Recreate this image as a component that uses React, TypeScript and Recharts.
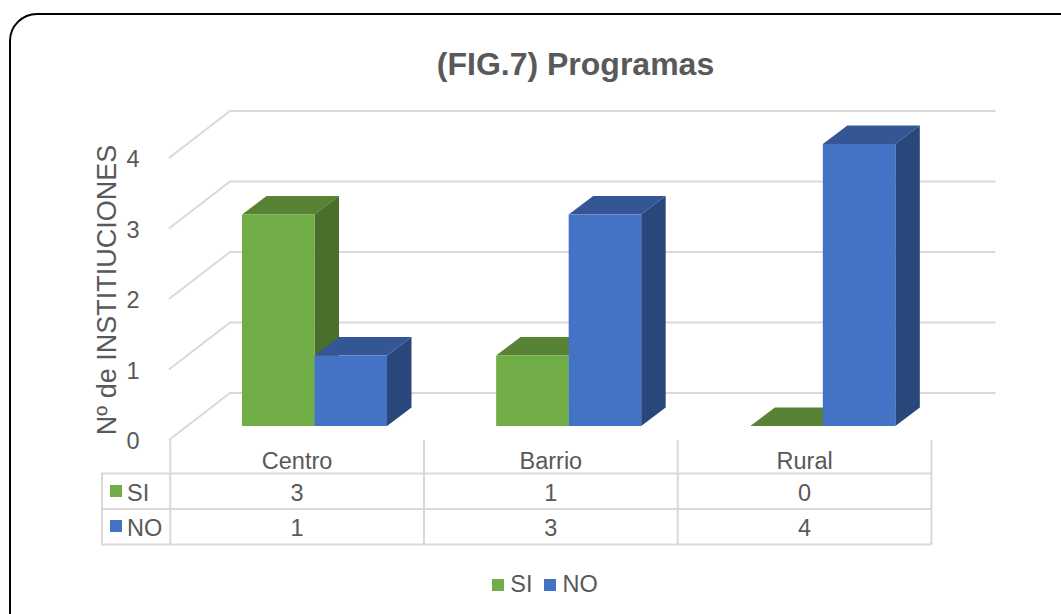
import React from "react";
import { BarChart, Bar, XAxis, YAxis, CartesianGrid, Legend } from "recharts";

const categories = ["Centro", "Barrio", "Rural"];
const siValues = [3, 1, 0];
const noValues = [1, 3, 4];
const yTicks = [0, 1, 2, 3, 4];

const data = categories.map((name, i) => ({ name, SI: siValues[i], NO: noValues[i] }));

const TEXT = "#595959";
const LINE = "#d9d9d9";
const FONT = "'Liberation Sans', Arial, sans-serif";
const LABEL_SIZE = 23.5;

const colors = {
  SI: { front: "#70ad47", top: "#588234", side: "#4a6e2b" },
  NO: { front: "#4472c4", top: "#345695", side: "#29477a" },
};

const DEPTH_X = 24.5;
const DEPTH_Y = 18.5;

// caja 3D: frente, techo y lateral a partir del rectangulo de la barra
const Box3D = ({ x, y, width, height, palette }: any) => {
  const r = x + width;
  const b = y + height;
  return (
    <g>
      <path
        d={`M${x},${y} L${x + DEPTH_X},${y - DEPTH_Y} L${r + DEPTH_X},${y - DEPTH_Y} L${r},${y} Z`}
        fill={palette.top}
      />
      <path
        d={`M${r},${y} L${r + DEPTH_X},${y - DEPTH_Y} L${r + DEPTH_X},${b - DEPTH_Y} L${r},${b} Z`}
        fill={palette.side}
      />
      <rect x={x} y={y} width={width} height={height} fill={palette.front} />
    </g>
  );
};

// rejilla en perspectiva: pared lateral + pared del fondo
const gridLine = ({ x1, x2, y1, key }: any) => (
  <path
    key={key}
    d={`M${x1 - 18},${y1 + 14} L${x1 + 43},${y1 - 33} L${x2 + 46},${y1 - 33}`}
    fill="none"
    stroke={LINE}
    strokeWidth={2}
  />
);

const YTick = ({ x, y, payload }: any) => (
  <text x={x - 46} y={y + 23} textAnchor="middle" fontSize={LABEL_SIZE} fill={TEXT} fontFamily={FONT}>
    {payload.value}
  </text>
);

const BAND = 253.7;
const TABLE_TOP = 473.5;
const ROW1 = 509;
const ROW2 = 544.5;

// cada tick dibuja su columna de la tabla de datos
const TableTick = ({ x, index, payload }: any) => {
  const cx = x - 17 - index * 0.4;
  const left = cx - BAND / 2;
  const right = cx + BAND / 2;
  const common = { textAnchor: "middle" as const, fontSize: LABEL_SIZE, fill: TEXT, fontFamily: FONT };
  return (
    <g>
      <line x1={left} x2={left} y1={440} y2={ROW2} stroke={LINE} strokeWidth={2} />
      {index === categories.length - 1 && (
        <line x1={right} x2={right} y1={440} y2={ROW2} stroke={LINE} strokeWidth={2} />
      )}
      {[TABLE_TOP, ROW1, ROW2].map((ly) => (
        <line key={ly} x1={left} x2={right} y1={ly} y2={ly} stroke={LINE} strokeWidth={2} />
      ))}
      <text x={cx} y={469} {...common}>{payload.value}</text>
      <text x={cx} y={501} {...common}>{siValues[index]}</text>
      <text x={cx} y={536} {...common}>{noValues[index]}</text>
    </g>
  );
};

const TableKeys = () => (
  <g fontFamily={FONT} fontSize={LABEL_SIZE} fill={TEXT}>
    <path d={`M170,${TABLE_TOP} H102 V${ROW2} H170 M102,${ROW1} H170`} fill="none" stroke={LINE} strokeWidth={2} />
    <rect x={110} y={485} width={12} height={12} fill={colors.SI.front} />
    <text x={127} y={501}>SI</text>
    <rect x={110} y={520} width={12} height={12} fill={colors.NO.front} />
    <text x={127} y={536}>NO</text>
  </g>
);

const LegendContent = ({ payload }: any) => (
  <div style={{ display: "flex", justifyContent: "center", fontFamily: FONT, fontSize: LABEL_SIZE, color: TEXT }}>
    {(payload || []).map((p: any) => (
      <div key={p.value} style={{ display: "flex", alignItems: "center", marginRight: 12 }}>
        <span style={{ width: 12, height: 12, background: p.color, marginRight: 6 }} />
        {p.value}
      </div>
    ))}
  </div>
);

export default function App() {
  return (
    <div style={{ position: "absolute", left: 0, top: 0, width: 1061, height: 614, overflow: "hidden", background: "#fff" }}>
      <div
        style={{
          position: "absolute",
          left: 9,
          top: 13,
          width: 1200,
          height: 800,
          border: "2px solid #000",
          borderRadius: 28,
        }}
      />
      <div style={{ position: "absolute", left: 0, top: 0 }}>
        <BarChart
          width={1061}
          height={614}
          data={data}
          barSize={72.5}
          barGap={0}
          margin={{ top: 144, right: 111.5, bottom: 101, left: 127 }}
        >
          <CartesianGrid vertical={false} horizontal={gridLine} />
          <XAxis
            dataKey="name"
            axisLine={false}
            tickLine={false}
            interval={0}
            tick={<TableTick />}
            height={60}
          />
          <YAxis
            domain={[0, 4]}
            ticks={yTicks}
            axisLine={false}
            tickLine={false}
            width={60}
            tick={<YTick />}
          />
          <Legend
            content={<LegendContent />}
            itemSorter={null}
            wrapperStyle={{ position: "absolute", left: 0, top: 571, width: 1102 }}
          />
          <Bar
            dataKey="SI"
            fill={colors.SI.front}
            isAnimationActive={false}
            shape={(p: any) => <Box3D {...p} palette={colors.SI} />}
          />
          <Bar
            dataKey="NO"
            fill={colors.NO.front}
            isAnimationActive={false}
            shape={(p: any) => <Box3D {...p} palette={colors.NO} />}
          />
          <TableKeys />
          <text x={575.5} y={75} textAnchor="middle" fontSize={32} fontWeight="bold" fill={TEXT} fontFamily={FONT}>
            (FIG.7) Programas
          </text>
          <text
            transform="translate(116,290) rotate(-90)"
            textAnchor="middle"
            fontSize={27}
            fill={TEXT}
            fontFamily={FONT}
          >
            Nº de INSTITIUCIONES
          </text>
        </BarChart>
      </div>
    </div>
  );
}
